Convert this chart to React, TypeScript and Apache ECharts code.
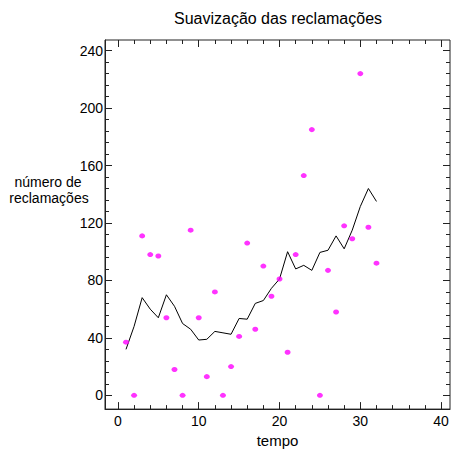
import React, { useEffect, useRef } from "react";
import * as echarts from "echarts";

const tempo: number[] = [1,2,3,4,5,6,7,8,9,10,11,12,13,14,15,16,17,18,19,20,21,22,23,24,25,26,27,28,29,30,31,32];
const reclamacoes: number[] = [37,0,111,98,97,54,18,0,115,54,13,72,0,20,41,106,46,90,69,81,30,98,153,185,0,87,58,118,109,224,117,92];
const suavizado: number[] = [32,48,68,60,54,70,62,50,46,38.5,39,44.5,43.5,42.5,53.5,53,64,66,74.5,81,100,88,90.5,87,99.5,101,111,102,115,131.5,144,135];
const xMajor: number[] = [0,10,20,30,40];
const xMinor: number[] = [2,4,6,8,12,14,16,18,22,24,26,28,32,34,36,38];
const yMajor: number[] = [0,40,80,120,160,200,240];
const yMinor: number[] = [8,16,24,32,48,56,64,72,88,96,104,112,128,136,144,152,168,176,184,192,208,216,224,232];

const FONT = "'Liberation Sans', Arial, sans-serif";
const X_MIN = -1.6, X_MAX = 41.1, Y_MIN = -9.6, Y_MAX = 247.4;

export default function App() {
  const ref = useRef<HTMLDivElement>(null);
  useEffect(() => {
    if (!ref.current) return;
    const chart = echarts.init(ref.current, null, { renderer: "svg" });
    const axisLineOn = { show: true, onZero: false, lineStyle: { color: "#222", width: 1 } };
    const axisLineOff = { show: false, onZero: false };
    const mkX = (pos: string, vals: number[], len: number, labels: boolean, extra: any = {}) => ({
      type: "value", min: X_MIN, max: X_MAX, position: pos,
      axisLine: labels ? axisLineOn : axisLineOff,
      splitLine: { show: false },
      axisTick: { show: true, inside: true, length: len, customValues: vals, lineStyle: { color: "#222", width: 1 } },
      axisLabel: labels ? { show: true, customValues: xMajor, color: "#000", fontSize: 14, fontFamily: FONT, margin: 5 } : { show: false },
      ...extra,
    });
    const mkY = (pos: string, vals: number[], len: number, labels: boolean, extra: any = {}) => ({
      type: "value", min: Y_MIN, max: Y_MAX, position: pos,
      axisLine: labels ? axisLineOn : axisLineOff,
      splitLine: { show: false },
      axisTick: { show: true, inside: true, length: len, customValues: vals, lineStyle: { color: "#222", width: 1 } },
      axisLabel: labels ? { show: true, customValues: yMajor, color: "#000", fontSize: 14, fontFamily: FONT, margin: 2 } : { show: false },
      ...extra,
    });
    chart.setOption({
      animation: false,
      grid: { left: 105, top: 40, right: 2, bottom: 39, show: true, borderColor: "#222", borderWidth: 1, backgroundColor: "transparent" },
      xAxis: [
        mkX("bottom", xMajor, 7, true, { name: "tempo", nameLocation: "middle", nameGap: 21, nameTextStyle: { color: "#000", fontSize: 15, fontFamily: FONT } }),
        mkX("bottom", xMinor, 4, false),
        mkX("top", xMajor, 7, false),
        mkX("top", xMinor, 4, false),
      ],
      yAxis: [
        mkY("left", yMajor, 7, true),
        mkY("left", yMinor, 4, false),
        mkY("right", yMajor, 7, false),
        mkY("right", yMinor, 4, false),
      ],
      graphic: [
        { type: "text", x: 278, y: 18, style: { text: "Suavização das reclamações", fill: "#000", fontSize: 16, fontFamily: FONT, textAlign: "center", textVerticalAlign: "middle" } },
        { type: "text", x: 48, y: 182, style: { text: "número de", fill: "#000", fontSize: 14, fontFamily: FONT, textAlign: "center", textVerticalAlign: "middle" } },
        { type: "text", x: 49, y: 198, style: { text: "reclamações", fill: "#000", fontSize: 14, fontFamily: FONT, textAlign: "center", textVerticalAlign: "middle" } },
      ],
      series: [
        {
          type: "line",
          xAxisIndex: 0, yAxisIndex: 0,
          data: tempo.map((t, i) => [t, suavizado[i]]),
          showSymbol: false, symbol: "none",
          lineStyle: { color: "#000", width: 1 },
          z: 2,
        },
        {
          type: "scatter",
          xAxisIndex: 0, yAxisIndex: 0,
          data: tempo.map((t, i) => [t, reclamacoes[i]]),
          symbol: "circle", symbolSize: [6, 5],
          itemStyle: { color: "#FF00FF" },
          z: 3,
        },
      ],
    });
    return () => chart.dispose();
  }, []);
  return <div ref={ref} style={{ width: 452, height: 453, position: "absolute", left: 0, top: 0 }} />;
}
